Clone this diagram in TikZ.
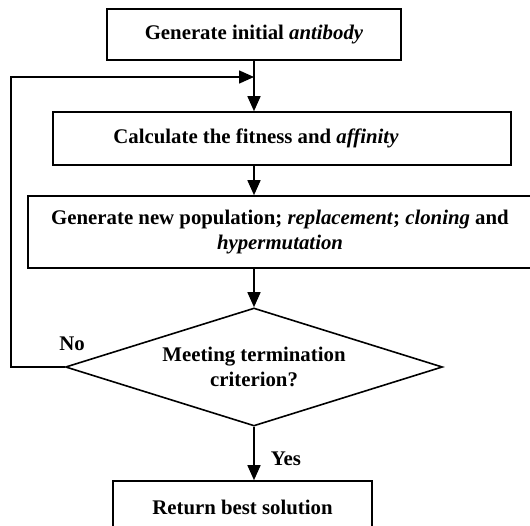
\documentclass[tikz,border=0pt]{standalone}
\usepackage{fontspec}
\setmainfont{Liberation Serif}
\usetikzlibrary{shapes.geometric,arrows.meta}
\begin{document}
\begin{tikzpicture}[x=1pt,y=-1pt,
  every node/.style={font=\fontsize{20.8}{25}\selectfont\bfseries},
  box/.style={draw, line width=1.6pt, rectangle, inner sep=0pt, align=center},
  dec/.style={draw, line width=1.6pt, diamond, aspect=3.2, inner sep=0pt, align=center,
              minimum width=377pt, minimum height=118pt},
  arr/.style={line width=1.6pt, -{Triangle[length=15pt,width=13pt]}},
  lbl/.style={inner sep=0pt}]
\useasboundingbox (0,0) rectangle (530,526);
\node[box, minimum width=294pt, minimum height=51pt] (init) at (254,34.5) {Generate initial \textit{antibody}};
\node[box, minimum width=458pt, minimum height=53pt] (calc) at (282,138.5) {};
\node[lbl] (calctxt) at (256,138.5) {Calculate the fitness and \textit{affinity}};
\node[box, minimum width=504pt, minimum height=72pt] (gen) at (280,232) {Generate new population; \textit{replacement}; \textit{cloning} and\\ \textit{hypermutation}};
\node[dec] (dec) at (254,367) {Meeting termination\\ criterion?};
\node[box, minimum width=259pt, minimum height=52pt] (ret) at (242.5,507) {Return best solution};
\node[lbl] (no) at (72,344) {No};
\node[lbl] (yes) at (286,459) {Yes};
\coordinate (join) at (254,77);
\coordinate (lc) at (11,77);
\draw[arr] (init.south) -- (calc.north -| init.south);
\draw[arr] (calc.south -| init.south) -- (gen.north -| init.south);
\draw[arr] (gen.south -| init.south) -- (dec.north);
\draw[arr] (dec.south) -- (ret.north -| dec.south);
\draw[arr] (dec.west) -| (lc) -- (join);
\end{tikzpicture}
\end{document}
